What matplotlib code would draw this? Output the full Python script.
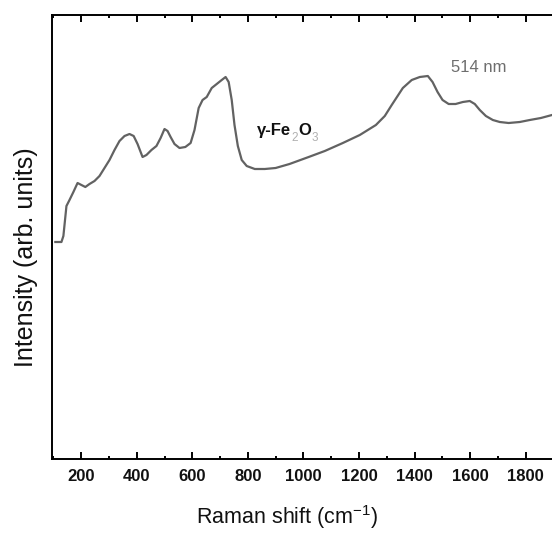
import matplotlib
matplotlib.use("Agg")
import matplotlib.pyplot as plt
from matplotlib.ticker import MultipleLocator

# Raman spectrum of gamma-Fe2O3, 514 nm excitation
raman_shift = [107, 129, 136, 147, 158, 172, 187, 201, 215, 230, 248, 266, 284, 302,
               320, 338, 356, 374, 389, 403, 421, 435, 453, 471, 486, 500, 511, 522,
               536, 554, 575, 594, 608, 623, 637, 652, 670, 688, 706, 720, 731, 742,
               752, 764, 778, 796, 825, 861, 900, 950, 1019, 1077, 1142, 1203, 1261,
               1293, 1318, 1358, 1390, 1419, 1448, 1465, 1483, 1501, 1523, 1548, 1574,
               1599, 1617, 1635, 1657, 1682, 1707, 1739, 1779, 1815, 1855, 1895]
intensity = [217, 217, 223, 253, 259, 267, 276, 274, 272, 275, 278, 283, 291, 299,
             309, 318, 323, 325, 323, 315, 302, 304, 309, 313, 321, 330, 328, 322,
             315, 311, 312, 316, 329, 351, 359, 362, 371, 375, 379, 382, 377, 359,
             334, 313, 299, 293, 290, 290, 291, 295, 302, 308, 316, 324, 334,
             343, 354, 371, 379, 382, 383, 377, 367, 359, 355, 355, 357,
             358, 355, 349, 343, 339, 337, 336, 337, 339, 341, 344]

xticks = [200, 400, 600, 800, 1000, 1200, 1400, 1600, 1800]

plt.rcParams["mathtext.fontset"] = "custom"
plt.rcParams["mathtext.rm"] = "Liberation Sans"
plt.rcParams["mathtext.bf"] = "Liberation Sans:bold"

W, H = 552, 535
fig = plt.figure(figsize=(W / 100, H / 100), dpi=100)
ax = fig.add_axes([52 / W, 76 / H, 1 - 52 / W, 444 / H])

ax.plot(raman_shift, intensity, color="#626262", lw=1.6)

ax.set_xlim(95, 1895)
ax.set_ylim(0, 444)
ax.spines["right"].set_visible(False)
for s in ("left", "bottom", "top"):
    ax.spines[s].set_linewidth(1.4)

ax.set_xticks(xticks)
ax.xaxis.set_minor_locator(MultipleLocator(100))
ax.tick_params(axis="x", which="major", direction="in", length=5, width=1.4,
               top=True, bottom=True, pad=7.5)
ax.tick_params(axis="x", which="minor", direction="in", length=2.5, width=1.4,
               top=True, bottom=True)
ax.set_yticks([])

for lab in ax.get_xticklabels():
    lab.set_fontfamily(["Liberation Sans Narrow", "Liberation Sans", "DejaVu Sans"])
    lab.set_fontweight("bold")
    lab.set_fontsize(12)
    lab.set_color("#111111")

label_family = ["Liberation Sans", "DejaVu Sans"]
ax.set_xlabel("Raman shift (cm$^{\\mathregular{-1}}$)", family=label_family,
              fontsize=15.5, color="#111111")
ax.xaxis.set_label_coords((287 - 52) / 500, (H - 503 - 76) / 444)
ax.set_ylabel("Intensity (arb. units)", family=label_family, fontsize=18,
              color="#111111")
ax.yaxis.set_label_coords((38 - 52) / 500, (H - 257 - 76) / 444)


def fig_text(px, py, s, **kw):
    fig.text(px / W, 1 - py / H, s, **kw)


# compound label with pale subscripts
lab_kw = dict(family=["Liberation Sans Narrow", "Liberation Sans", "DejaVu Sans"],
              fontweight="bold", color="#111111", va="baseline", ha="left")
fig_text(257, 135, "γ-Fe", fontsize=12, **lab_kw)
fig_text(298, 135, "O", fontsize=12, **lab_kw)
sub_kw = dict(lab_kw, color="#b0b0b0", fontweight="normal")
fig_text(291, 141, "2", fontsize=8.5, **sub_kw)
fig_text(312, 141, "3", fontsize=8.5, **sub_kw)

fig_text(479, 68, "514 nm", fontsize=12, family=label_family, color="#6e6e6e",
         va="center", ha="center")

fig.savefig("out.png", dpi=100)
